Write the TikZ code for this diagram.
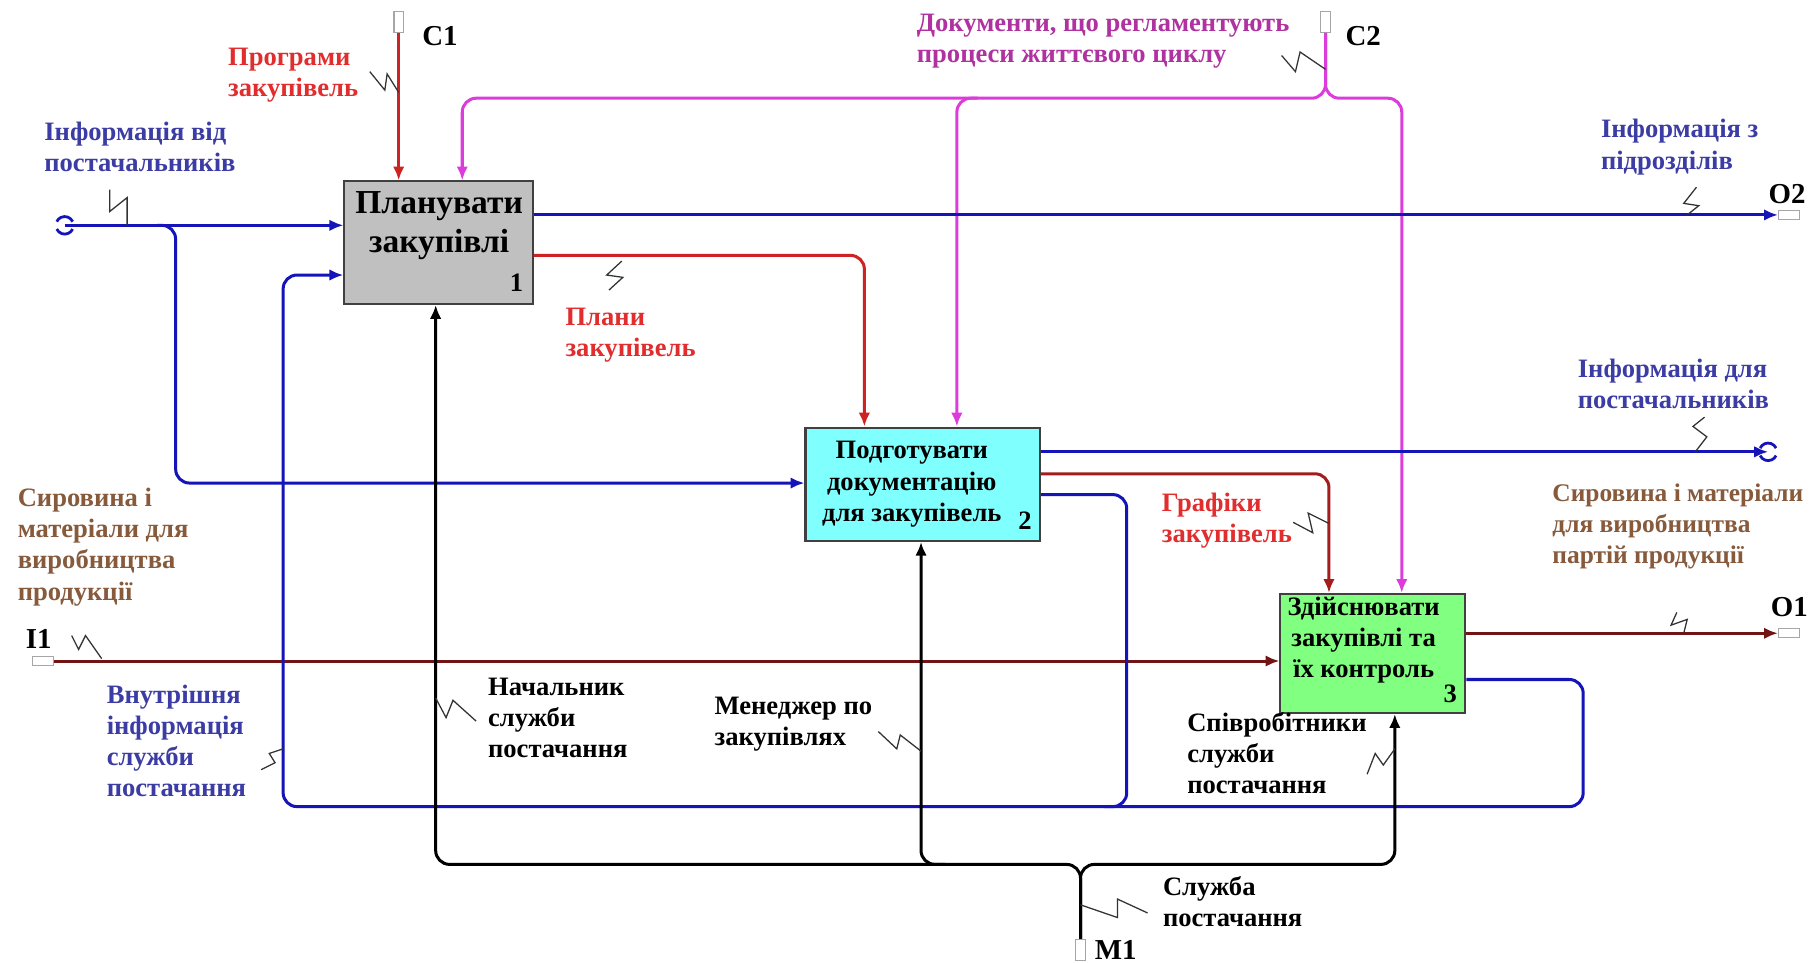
\documentclass[tikz,border=0pt]{standalone}
\usepackage{fontspec}
\setmainfont{Liberation Serif}
\usetikzlibrary{arrows.meta}

% line colours
\definecolor{lnblue}{RGB}{20,20,185}
\definecolor{lnred}{RGB}{205,35,35}
\definecolor{lnmaroon}{RGB}{115,20,20}
\definecolor{lnmag}{RGB}{220,60,220}
% text colours
\definecolor{txblue}{RGB}{60,60,165}
\definecolor{txred}{RGB}{225,45,45}
\definecolor{txmag}{RGB}{175,50,160}
\definecolor{txbrown}{RGB}{135,90,60}
% box fills
\definecolor{boxgray}{RGB}{192,192,192}
\definecolor{boxcyan}{RGB}{128,255,255}
\definecolor{boxgreen}{RGB}{128,255,128}

\newcommand{\lblfont}{\fontsize{11.5}{13.5}\selectfont\bfseries}
\newcommand{\tunfont}{\fontsize{12.5}{14}\selectfont\bfseries}

\begin{document}
\begin{tikzpicture}[x=0.5pt,y=-0.5pt,
  flow/.style={line width=1.3pt, rounded corners=6pt},
  tip/.style={-{Latex[length=6pt,width=5pt]}},
  proc/.style={draw=black!75, line width=0.9pt, inner sep=0pt},
  boxtext/.style={align=center, inner sep=0pt, font=\lblfont},
  boxnum/.style={inner sep=0pt, font=\lblfont},
  lbl/.style={align=left, anchor=north west, inner sep=0pt, font=\lblfont},
  tunlbl/.style={anchor=west, inner sep=0pt, font=\tunfont},
  vtun/.style={draw=black!35, fill=white, line width=0.5pt, minimum width=4pt, minimum height=9pt, inner sep=0pt},
  htun/.style={draw=black!35, fill=white, line width=0.5pt, minimum width=9pt, minimum height=4pt, inner sep=0pt},
  squig/.style={draw=black!80, line width=0.55pt},
  roundtun/.style={line width=1.2pt}
]
\fill[white] (0,0) rectangle (1568,833);
\path[use as bounding box] (0,0) rectangle (1568,833);

% ---------- activity boxes ----------
\node[proc, fill=boxgray,  minimum width=81.5pt,  minimum height=53pt]   (b1) at (379.5,210) {};
\node[proc, fill=boxcyan,  minimum width=101.5pt, minimum height=49pt]   (b2) at (798.5,419) {};
\node[proc, fill=boxgreen, minimum width=80pt,    minimum height=51.5pt] (b3) at (1188,565.5) {};

\node[boxtext, font=\fontsize{14.5}{17}\selectfont\bfseries] (t1) at (380,195) {Планувати\\закупівлі};
\node[boxtext] (t2) at (789,419) {Подготувати\\документацію\\для закупівель};
\node[boxtext] (t3) at (1180,554) {Здійснювати\\закупівлі та\\їх контроль};
\node[boxnum] (n1) at (447,245) {1};
\node[boxnum] (n2) at (887,451) {2};
\node[boxnum] (n3) at (1255,600) {3};

% ---------- border tunnels ----------
\node[vtun] (c1) at (345,19) {};
\node[vtun] (c2) at (1147,19) {};
\node[vtun] (m1) at (935,822) {};
\node[htun] (i1) at (37,572) {};
\node[htun] (o1) at (1548,548) {};
\node[htun] (o2) at (1548,186) {};
\coordinate (tl) at (56,195);
\coordinate (tr) at (1530,391);

\node[tunlbl] (lc1) at (365,31) {C1};
\node[tunlbl] (lc2) at (1164,31) {C2};
\node[tunlbl] (lo2) at (1530,168) {O2};
\node[tunlbl] (lo1) at (1532,525) {O1};
\node[tunlbl] (li1) at (22,553) {I1};
\node[tunlbl] (lm1) at (947,822) {M1};

% ---------- routing points ----------
\coordinate (kDocA) at (400,85);
\coordinate (kDocB) at (828,85);
\coordinate (kDocBs) at (846,85);
\coordinate (kDocC) at (1213,85);
\coordinate (kSupS) at (136,195);
\coordinate (kSup) at (152,418);
\coordinate (kPlan) at (748,221);
\coordinate (kSch) at (1150,410);
\coordinate (yB2) at (0,428);
\coordinate (kB2) at (975,698);
\coordinate (yB3) at (0,588);
\coordinate (kLoopR) at (1370,698);
\coordinate (kLoopL) at (245,238);
\coordinate (kMa) at (377,748);
\coordinate (kMb) at (797,748);
\coordinate (kMbs) at (818,748);
\coordinate (kMc) at (1207,748);

% ---------- controls ----------
\draw[flow, lnred, tip] (c1.south) -- (b1.north -| c1.south);
\draw[flow, lnmag, tip] (c2.south) |- (kDocA) -- (b1.north -| kDocA);
\draw[flow, lnmag, tip] (c2.south) |- (kDocC) -- (b3.north -| kDocC);
\draw[flow, lnmag, tip] (kDocBs) -| (b2.north -| kDocB);
\draw[flow, lnred, tip] (b1.east |- kPlan) -| (b2.north -| kPlan);
\draw[flow, lnred!80!black, tip] (b2.east |- kSch) -| (b3.north -| kSch);

% ---------- inputs ----------
\draw[flow, lnblue, tip] (tl) -- (b1.west |- tl);
\draw[flow, lnblue, tip] (kSupS) -| (kSup) -- (b2.west |- kSup);
\draw[flow, lnmaroon, tip] (i1.east) -- (b3.west |- i1.east);
\draw[flow, lnblue, tip] (b3.east |- yB3) -| (kLoopR) -| (kLoopL) -- (b1.west |- kLoopL);
\draw[flow, lnblue] (b2.east |- yB2) -| (kB2) -- ++(-20,0);

% ---------- outputs ----------
\draw[flow, lnblue, tip] (b1.east |- o2.west) -- (o2.west);
\draw[flow, lnblue, tip] (b2.east |- tr) -- (tr);
\draw[flow, lnmaroon, tip] (b3.east |- o1.west) -- (o1.west);

% ---------- mechanisms ----------
\draw[flow, black, tip] (m1.north) |- (kMa) -- (b1.south -| kMa);
\draw[flow, black, tip] (m1.north) |- (kMc) -- (b3.south -| kMc);
\draw[flow, black, tip] (kMbs) -| (b2.south -| kMb);

% ---------- round tunnels ----------
\draw[roundtun, lnblue] (tl) ++(25:3.8pt) arc[start angle=25, end angle=155, radius=3.8pt];
\draw[roundtun, lnblue] (tl) ++(205:3.8pt) arc[start angle=205, end angle=335, radius=3.8pt];
\draw[roundtun, lnblue] (tr) ++(25:3.8pt) arc[start angle=25, end angle=155, radius=3.8pt];
\draw[roundtun, lnblue] (tr) ++(205:3.8pt) arc[start angle=205, end angle=335, radius=3.8pt];

% ---------- arrow labels ----------
\node[lbl, text=txred]   (lProg)  at (197,41)   {Програми\\закупівель};
\node[lbl, text=txblue]  (lSup)   at (38,105)   {Інформація від\\постачальників};
\node[lbl, text=txmag]   (lDoc)   at (793,12)   {Документи, що регламентують\\процеси життєвого циклу};
\node[lbl, text=txblue]  (lSub)   at (1385,103) {Інформація з\\підрозділів};
\node[lbl, text=txred]   (lPlan)  at (489,266)  {Плани\\закупівель};
\node[lbl, text=txblue]  (lFor)   at (1365,310) {Інформація для\\постачальників};
\node[lbl, text=txbrown] (lRaw)   at (15,422)   {Сировина і\\матеріали для\\виробництва\\продукції};
\node[lbl, text=txred]   (lSch)   at (1005,426) {Графіки\\закупівель};
\node[lbl, text=txbrown, font=\fontsize{11}{13.5}\selectfont\bfseries] (lOut) at (1343,418) {Сировина і матеріали\\для виробництва\\партій продукції};
\node[lbl, text=txblue]  (lInt)   at (92,592)   {Внутрішня\\інформація\\служби\\постачання};
\node[lbl, text=black]   (lHead)  at (422,586)  {Начальник\\служби\\постачання};
\node[lbl, text=black]   (lMgr)   at (618,603)  {Менеджер по\\закупівлях};
\node[lbl, text=black]   (lStaff) at (1027,616) {Співробітники\\служби\\постачання};
\node[lbl, text=black]   (lServ)  at (1006,758) {Служба\\постачання};

% ---------- label squiggles ----------
\draw[squig] (320,62) -- (333,78) -- (335,64) -- (345,80);
\draw[squig] (95,164) -- (95,183) -- (110,171) -- (110,195);
\draw[squig] (1468,162) -- (1457,176) -- (1470,178) -- (1460,186);
\draw[squig] (538,226) -- (525,238) -- (539,240) -- (527,251);
\draw[squig] (1109,48) -- (1121,62) -- (1125,45) -- (1147,60);
\draw[squig] (1119,452) -- (1136,461) -- (1132,444) -- (1150,453);
\draw[squig] (1475,361) -- (1465,369) -- (1477,378) -- (1467,391);
\draw[squig] (1451,530) -- (1446,541) -- (1460,536) -- (1457,548);
\draw[squig] (62,550) -- (68,562) -- (74,550) -- (88,570);
\draw[squig] (245,648) -- (233,652) -- (238,660) -- (226,666);
\draw[squig] (377,604) -- (386,621) -- (392,606) -- (412,624);
\draw[squig] (760,633) -- (776,648) -- (779,636) -- (797,650);
\draw[squig] (1183,670) -- (1190,652) -- (1197,662) -- (1207,648);
\draw[squig] (935,783) -- (967,794) -- (967,778) -- (993,790);
\end{tikzpicture}
\end{document}
